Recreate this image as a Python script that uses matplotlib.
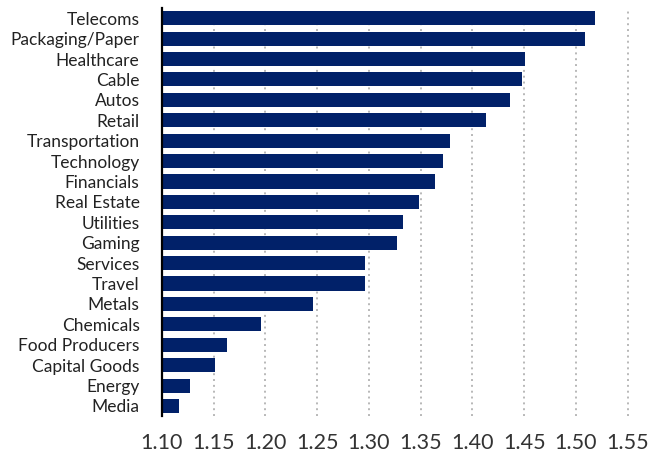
import matplotlib

matplotlib.use("Agg")
import matplotlib.pyplot as plt
import numpy as np

sectors = ["Telecoms", "Packaging/Paper", "Healthcare", "Cable", "Autos",
           "Retail", "Transportation", "Technology", "Financials",
           "Real Estate", "Utilities", "Gaming", "Services", "Travel",
           "Metals", "Chemicals", "Food Producers", "Capital Goods",
           "Energy", "Media"]
values = [1.518, 1.509, 1.451, 1.448, 1.436, 1.413, 1.378, 1.372, 1.364,
          1.348, 1.333, 1.327, 1.296, 1.296, 1.246, 1.196, 1.163, 1.151,
          1.127, 1.117]
xticks = [1.10, 1.15, 1.20, 1.25, 1.30, 1.35, 1.40, 1.45, 1.50, 1.55]

BASE = 1.10
NAVY = "#012169"

plt.rcParams["font.family"] = ["Lato", "DejaVu Sans"]

fig = plt.figure(figsize=(6.62, 4.57), dpi=100)
ax = fig.add_axes([0.2443, 0.0893, 0.9560 - 0.2443, 0.9825 - 0.0893])

y = np.arange(len(sectors))
ax.barh(y, np.array(values) - BASE, left=BASE, height=0.69, color=NAVY,
        zorder=3)

ax.set_ylim(len(sectors) - 0.5, -0.5)
ax.set_xlim(BASE, 1.555)
ax.set_yticks(y)
ax.set_yticklabels(sectors, fontsize=12.5, color="#222222")
ax.set_xticks(xticks)
ax.set_xticklabels([f"{v:.2f}" for v in xticks], fontsize=15.5,
                   color="#333333")
ax.tick_params(axis="y", length=0, pad=16)
ax.tick_params(axis="x", length=0, pad=12)

for v in xticks[1:]:
    ax.axvline(v, color="#b8b8b8", lw=1.4, ls=(0, (1, 2.0)), zorder=1)

for side in ["top", "right", "bottom"]:
    ax.spines[side].set_visible(False)
ax.spines["left"].set_linewidth(1.6)
ax.spines["left"].set_color("black")
ax.spines["left"].set_zorder(4)

fig.savefig("out.png", dpi=100)
